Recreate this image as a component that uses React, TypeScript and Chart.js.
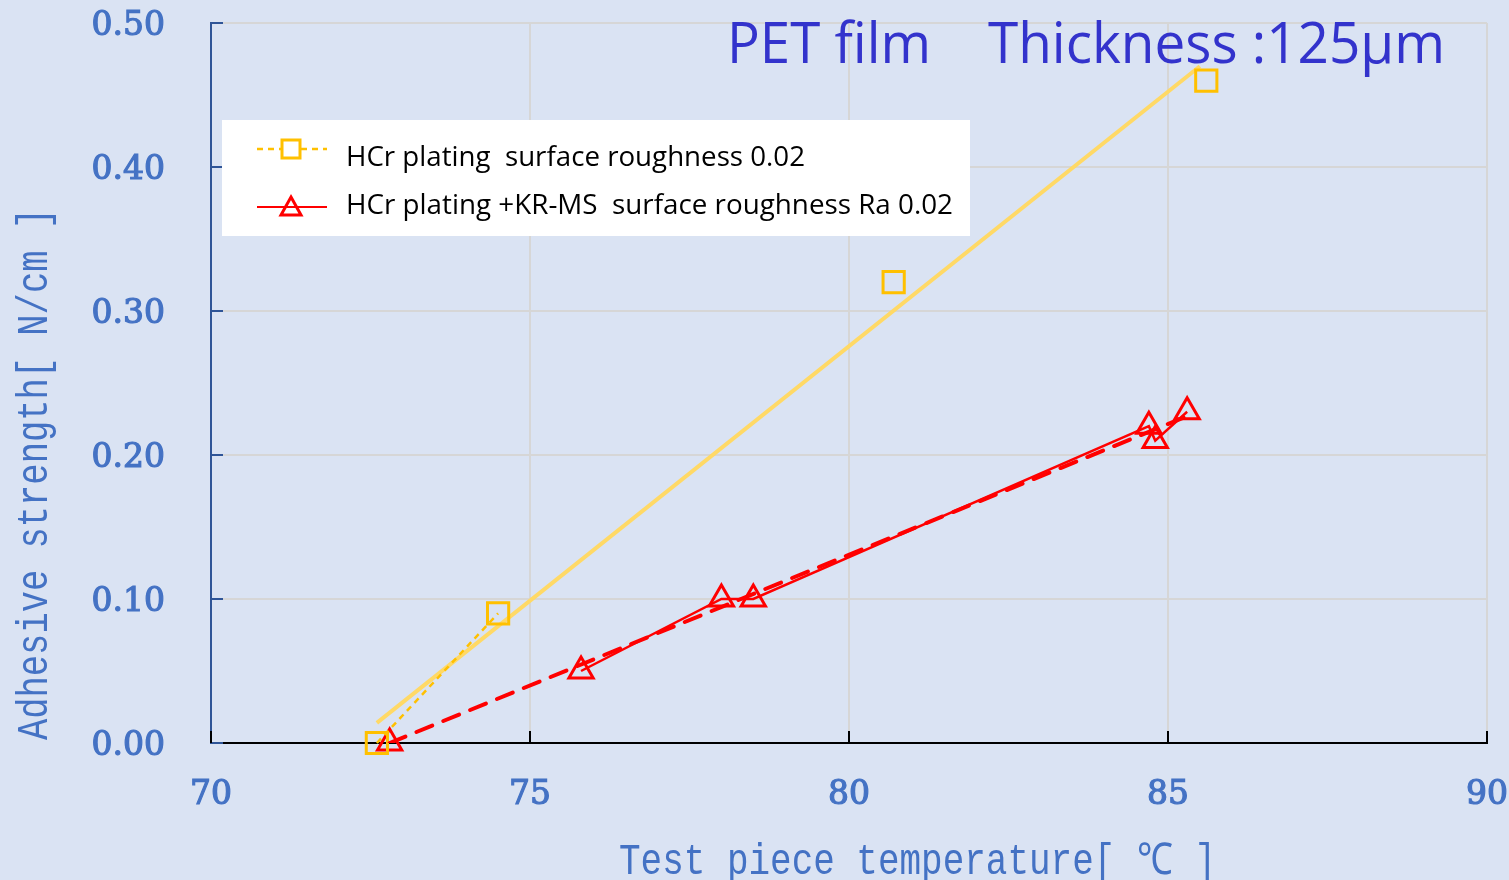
import React, { useEffect, useRef } from 'react';
import { Chart, registerables } from 'chart.js';

Chart.register(...registerables);

// ---- data ----
const hcrTemp = [72.6, 74.5, 80.7, 85.6];
const hcrStrength = [0.0, 0.09, 0.32, 0.46];
const krTemp = [72.8, 75.8, 78.0, 78.5, 84.7, 84.8, 85.3];
const krStrength = [0.0, 0.05, 0.1, 0.1, 0.22, 0.21, 0.23];
// linear trend lines (end points)
const hcrTrendTemp = [72.6, 85.5];
const hcrTrendStrength = [0.014, 0.47];
const krTrendTemp = [72.8, 85.3];
const krTrendStrength = [0.0, 0.227];

const xMin = 70;
const xMax = 90;
const xStep = 5;
const yMin = 0;
const yMax = 0.5;
const yStep = 0.1;

const legendLabels = [
  'HCr plating  surface roughness 0.02',
  'HCr plating +KR-MS  surface roughness Ra 0.02',
];
const titleLeft = 'PET film';
const titleRight = 'Thickness :125μm';
const xTitle = 'Test piece temperature[ ℃ ]';
const yTitle = 'Adhesive strength[ N/cm ]';

const ORANGE = '#FFC000';
const TREND_YELLOW = '#FFD966';
const RED = '#FF0000';
const AXIS_BLUE = '#4472C4';
const TITLE_BLUE = '#3333CC';
const BG = '#DAE3F3';

const toPts = (xs: number[], ys: number[]) => xs.map((x, i) => ({ x, y: ys[i] }));

function fitText(ctx: CanvasRenderingContext2D, text: string, x: number, y: number, width: number) {
  const w = ctx.measureText(text).width;
  const s = width / w;
  ctx.save();
  ctx.translate(x, y);
  ctx.scale(s, 1);
  ctx.textAlign = 'left';
  ctx.fillText(text, 0, 0);
  ctx.restore();
}

const decorPlugin = {
  id: 'decor',
  beforeDatasetsDraw(chart: any) {
    const { ctx, chartArea: ca, scales } = chart;
    ctx.save();
    // inward tick marks
    ctx.lineWidth = 2;
    ctx.strokeStyle = '#2F5597';
    scales.y.ticks.forEach((t: any) => {
      const py = Math.round(scales.y.getPixelForValue(t.value));
      ctx.beginPath();
      ctx.moveTo(ca.left, py);
      ctx.lineTo(ca.left + 12, py);
      ctx.stroke();
    });
    ctx.strokeStyle = '#000000';
    scales.x.ticks.forEach((t: any) => {
      const px = Math.round(scales.x.getPixelForValue(t.value));
      ctx.beginPath();
      ctx.moveTo(px, ca.bottom);
      ctx.lineTo(px, ca.bottom - 12);
      ctx.stroke();
    });
    ctx.restore();
  },
  afterDraw(chart: any) {
    const { ctx, chartArea: ca } = chart;
    ctx.save();
    // chart title
    ctx.fillStyle = TITLE_BLUE;
    ctx.font = '57px "Open Sans"';
    ctx.textBaseline = 'alphabetic';
    fitText(ctx, titleLeft, ca.left + 516, 63, 204);
    fitText(ctx, titleRight, ca.left + 777, 63, 457);

    // axis titles
    ctx.fillStyle = AXIS_BLUE;
    ctx.font = '44px "Liberation Mono"';
    ctx.textBaseline = 'alphabetic';
    fitText(ctx, xTitle, 619, 874, 597);
    ctx.save();
    ctx.translate(47, 740);
    ctx.rotate(-Math.PI / 2);
    fitText(ctx, yTitle, 0, 0, 532);
    ctx.restore();

    // legend box
    const bx = ca.left + 11;
    const by = ca.top + 97;
    ctx.fillStyle = '#FFFFFF';
    ctx.fillRect(bx, by, 748, 116);
    const rows = [ca.top + 126, ca.top + 184];
    const lx0 = bx + 35;
    const lx1 = bx + 105;
    const mx = bx + 69;
    // row 1: orange dotted + square
    ctx.strokeStyle = ORANGE;
    ctx.lineWidth = 2.5;
    ctx.setLineDash([6, 5]);
    ctx.beginPath();
    ctx.moveTo(lx0, rows[0]);
    ctx.lineTo(lx1, rows[0]);
    ctx.stroke();
    ctx.setLineDash([]);
    ctx.lineWidth = 3;
    ctx.fillStyle = '#FFFFFF';
    ctx.fillRect(mx - 9, rows[0] - 9, 18, 18);
    ctx.strokeRect(mx - 9, rows[0] - 9, 18, 18);
    // row 2: red solid + triangle
    ctx.strokeStyle = RED;
    ctx.lineWidth = 2;
    ctx.beginPath();
    ctx.moveTo(lx0, rows[1]);
    ctx.lineTo(lx1, rows[1]);
    ctx.stroke();
    ctx.lineWidth = 3;
    ctx.beginPath();
    ctx.moveTo(mx, rows[1] - 10);
    ctx.lineTo(mx + 10, rows[1] + 8);
    ctx.lineTo(mx - 10, rows[1] + 8);
    ctx.closePath();
    ctx.stroke();
    // legend text
    ctx.fillStyle = '#000000';
    ctx.font = '27px "Open Sans"';
    fitText(ctx, legendLabels[0], bx + 124, rows[0] + 17, 459);
    fitText(ctx, legendLabels[1], bx + 124, rows[1] + 7, 607);
    ctx.restore();
  },
};

export default function App() {
  const ref = useRef<HTMLCanvasElement | null>(null);

  useEffect(() => {
    if (!ref.current) return;
    const chart = new Chart(ref.current, {
      type: 'scatter',
      data: {
        datasets: [
          {
            label: legendLabels[0],
            data: toPts(hcrTemp, hcrStrength),
            showLine: true,
            clip: false,
            borderColor: ORANGE,
            borderWidth: 2.5,
            borderDash: [6, 5],
            segment: {
              borderColor: (c: any) => (c.p0DataIndex >= 1 ? 'rgba(0,0,0,0)' : ORANGE),
            },
            pointStyle: 'rect',
            pointRadius: 15,
            pointBorderWidth: 3,
            pointBorderColor: ORANGE,
            pointBackgroundColor: 'rgba(0,0,0,0)',
            order: 1,
          },
          {
            label: legendLabels[1],
            data: toPts(krTemp, krStrength),
            showLine: true,
            clip: false,
            borderColor: RED,
            borderWidth: 2.5,
            segment: {
              borderColor: (c: any) => (c.p0DataIndex === 0 ? 'rgba(0,0,0,0)' : RED),
            },
            pointStyle: 'triangle',
            pointRadius: 14,
            pointBorderWidth: 3,
            pointBorderColor: RED,
            pointBackgroundColor: 'rgba(0,0,0,0)',
            order: 2,
          },
          {
            label: 'trend1',
            data: toPts(hcrTrendTemp, hcrTrendStrength),
            showLine: true,
            borderColor: TREND_YELLOW,
            borderWidth: 4,
            pointRadius: 0,
            order: 3,
          },
          {
            label: 'trend2',
            data: toPts(krTrendTemp, krTrendStrength),
            showLine: true,
            borderColor: RED,
            borderWidth: 4,
            borderDash: [17, 12],
            borderCapStyle: 'round',
            pointRadius: 0,
            order: 0,
          },
        ],
      },
      options: {
        animation: false,
        responsive: false,
        events: [],
        layout: { padding: { top: 23, right: 22, left: 0, bottom: 0 } },
        plugins: {
          legend: { display: false },
          tooltip: { enabled: false },
          title: { display: false },
        },
        scales: {
          x: {
            type: 'linear',
            min: xMin,
            max: xMax,
            afterFit: (s: any) => {
              s.height = 137;
              s.paddingLeft = 0;
              s.paddingRight = 0;
              s.paddingTop = 0;
              s.paddingBottom = 0;
            },
            ticks: {
              stepSize: xStep,
              padding: 33,
              color: AXIS_BLUE,
              font: { family: '"DejaVu Serif"', size: 33 },
              textStrokeColor: AXIS_BLUE,
              textStrokeWidth: 1.2,
              maxRotation: 0,
            },
            grid: { color: '#D6D6D6', lineWidth: 2, drawTicks: false },
            border: { color: '#000000', width: 2 },
          },
          y: {
            type: 'linear',
            min: yMin,
            max: yMax,
            afterFit: (s: any) => {
              s.width = 211;
              s.paddingLeft = 0;
              s.paddingRight = 0;
              s.paddingTop = 0;
              s.paddingBottom = 0;
            },
            ticks: {
              stepSize: yStep,
              padding: 46,
              labelOffset: 3,
              color: AXIS_BLUE,
              font: { family: '"DejaVu Serif"', size: 33 },
              textStrokeColor: AXIS_BLUE,
              textStrokeWidth: 1.2,
              callback: (v: any) => Number(v).toFixed(2),
            },
            grid: { color: '#D6D6D6', lineWidth: 2, drawTicks: false },
            border: { color: '#2F5597', width: 2 },
          },
        },
      },
      plugins: [decorPlugin],
    } as any);
    return () => chart.destroy();
  }, []);

  return (
    <div
      style={{
        position: 'fixed',
        left: 0,
        top: 0,
        width: 1509,
        height: 880,
        background: BG,
      }}
    >
      <canvas ref={ref} width={1509} height={880} style={{ display: 'block' }} />
    </div>
  );
}
